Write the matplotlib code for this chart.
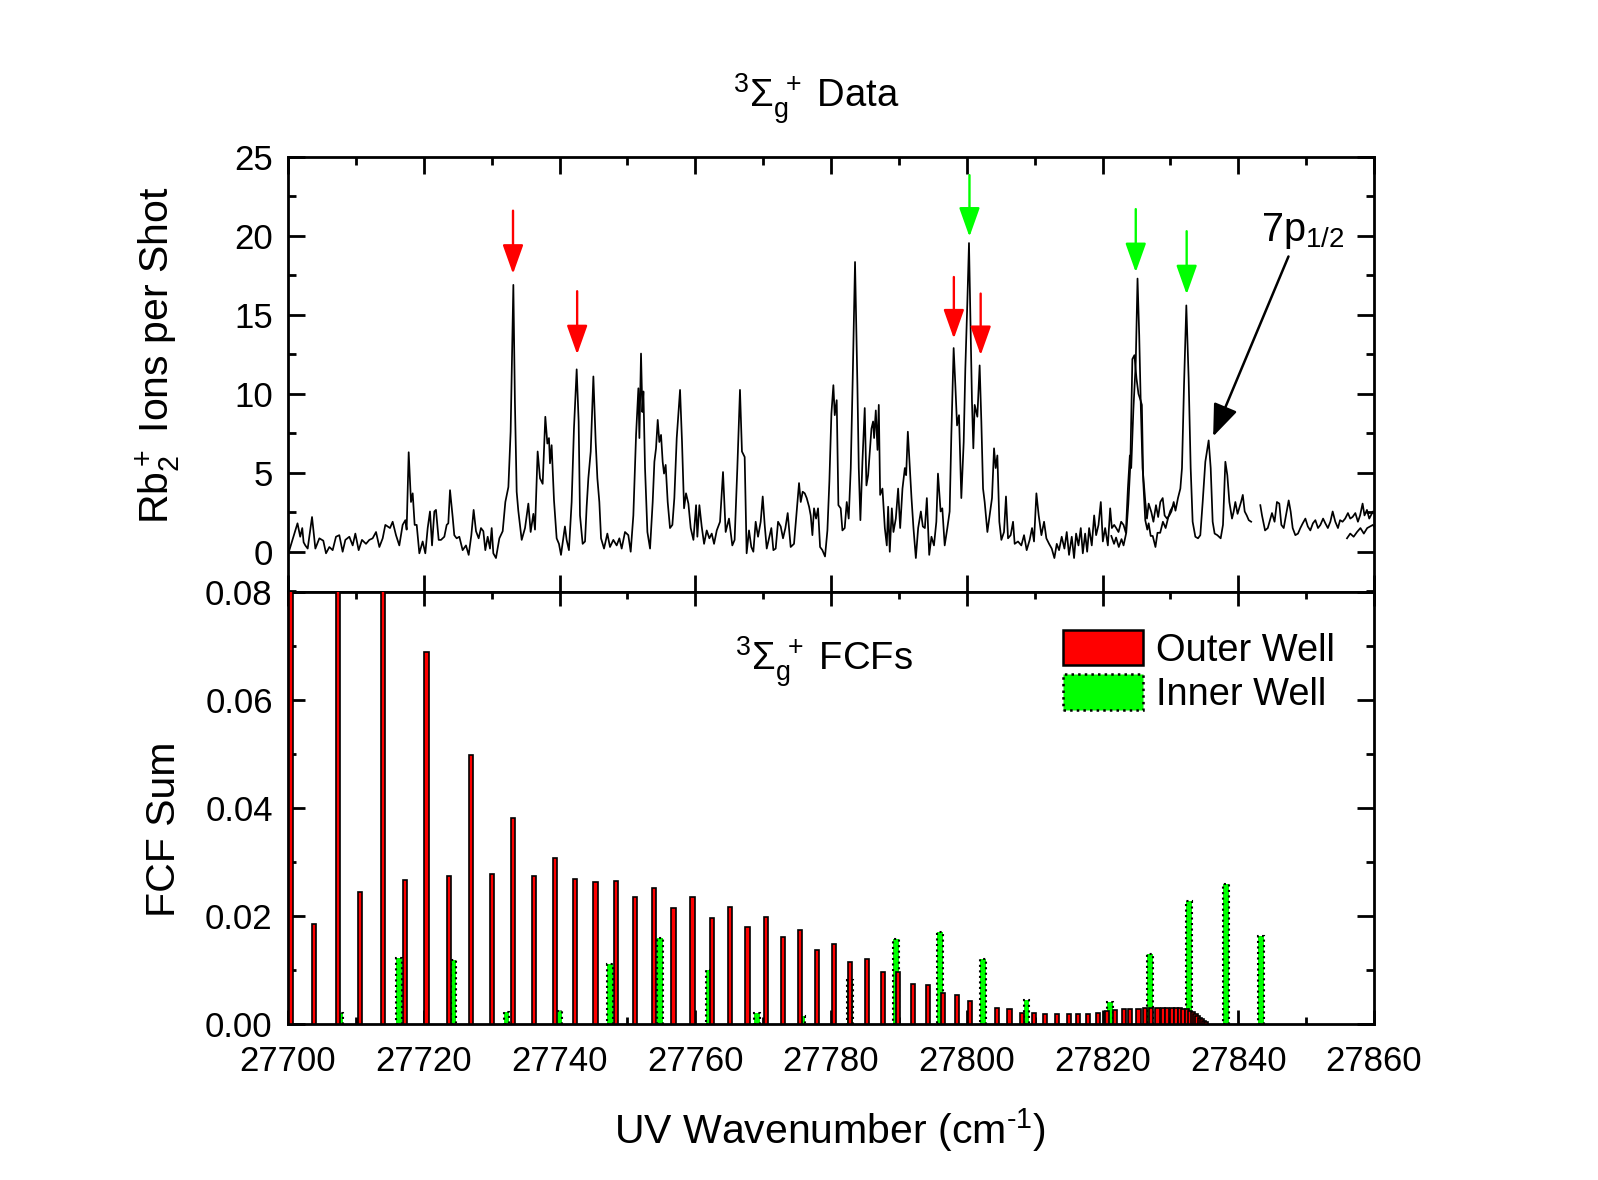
import matplotlib
matplotlib.use("Agg")
import matplotlib.pyplot as plt
from matplotlib.patches import Patch
from matplotlib.ticker import MultipleLocator
import numpy as np

plt.rcParams['font.family'] = ['Liberation Sans', 'DejaVu Sans']
plt.rcParams['mathtext.fontset'] = 'custom'
plt.rcParams['mathtext.rm'] = 'Liberation Sans'
plt.rcParams['mathtext.it'] = 'Liberation Sans'
plt.rcParams['mathtext.bf'] = 'Liberation Sans:bold'

BASE = 27700.0

# ---------------- spectrum (offset from 27700 cm^-1, ions per shot) ----------------
scanA_x = [0.2, 1.4, 1.8, 2.1, 2.3, 2.55, 2.9, 3.54, 4.03, 4.62, 5.2, 5.6, 6.09, 6.58, 7.07, 7.56, 8.05, 8.45,
           9.04, 9.53, 9.92, 10.41, 10.9, 11.49, 11.98, 12.47, 12.97, 13.46, 13.95, 14.34, 14.68, 15.03, 15.42,
           15.91, 16.4, 16.89, 17.29, 17.48, 17.78, 18.12, 18.37, 18.66, 18.96, 19.35, 19.84, 20.23, 20.58, 20.92,
           21.22, 21.56, 21.8, 22.2, 22.54, 23.03, 23.38, 23.62, 23.87, 24.26, 24.5, 24.85, 25.24, 25.73, 26.22,
           26.62, 27.01, 27.35, 27.7, 28.09, 28.43, 28.78, 29.07, 29.42, 29.76, 30.01, 30.25, 30.64, 31.14, 31.63,
           32.02, 32.47, 32.8, 33.2, 33.43, 33.69, 33.93, 34.43, 34.92, 35.41, 35.75, 36.15, 36.39, 36.78, 37.13,
           37.52, 37.91, 38.21, 38.45, 38.6, 38.84, 39.19, 39.58, 39.92, 40.22, 40.8, 41.05, 41.39, 41.79, 42.13,
           42.53, 42.82, 43.02, 43.41, 43.76, 44.0, 44.25, 44.6, 44.99, 45.33, 45.58, 45.87, 46.12, 46.56, 47.05,
           47.44, 47.93, 48.42, 48.82, 49.16, 49.65, 50.14, 50.49, 50.88, 51.28, 51.62, 51.77, 52.01, 52.21, 52.36,
           52.6, 52.95, 53.34, 53.73, 53.98, 54.22, 54.47, 54.71, 54.96, 55.2, 55.4, 55.64, 55.94, 56.28, 56.63,
           56.92, 57.27, 57.76, 58.05, 58.35, 58.64, 58.99, 59.33, 59.73, 60.12, 60.31, 60.61, 60.95, 61.3, 61.69,
           62.08, 62.43, 62.77, 63.17, 63.65, 64.09, 64.48, 64.97, 65.46, 65.8, 66.2, 66.59, 66.88, 67.28, 67.57,
           67.92, 68.26, 68.56, 68.9, 69.25, 69.64, 69.94, 70.23, 70.53, 70.87, 71.21, 71.51, 71.85, 72.2, 72.59,
           72.93, 73.28, 73.62, 74.06, 74.55, 74.95, 75.29, 75.54, 75.83, 76.13, 76.42, 76.77, 77.01, 77.26, 77.5,
           77.8, 78.09, 78.39, 78.73, 79.12, 79.47, 79.76, 80.06, 80.35, 80.55, 80.84, 81.09, 81.43, 81.68, 82.02,
           82.32, 82.61, 82.91, 83.2, 83.54, 83.89, 84.09, 84.33, 84.63, 84.97, 85.22, 85.47, 85.76, 85.96, 86.2,
           86.35, 86.6, 86.85, 87.04, 87.24, 87.58, 87.93, 88.22, 88.42, 88.66, 88.96, 89.2, 89.55, 89.89, 90.19,
           90.53, 90.88, 91.07, 91.32, 91.56, 91.86, 92.15, 92.5, 92.84, 93.24, 93.53, 93.83, 94.12, 94.47, 94.8,
           95.17, 95.52, 95.76, 96.15, 96.4, 96.75, 97.14, 97.48, 97.73, 98.07, 98.32, 98.57, 98.86, 99.2, 99.55,
           99.79, 100.09, 100.33, 100.58, 100.77, 100.97, 101.17, 101.56, 101.9, 102.15, 102.4, 102.64, 103.04,
           103.38, 103.72, 104.02, 104.26, 104.51, 104.8, 105.1, 105.49, 105.78, 106.08, 106.47, 106.82, 107.06,
           107.55, 108.04, 108.44, 108.83, 109.27, 109.62, 109.91, 110.26, 110.6, 111.0, 111.39, 111.73, 112.13,
           112.52, 112.91, 113.26, 113.6, 113.99, 114.39, 114.73, 115.07, 115.47, 115.81, 116.11, 116.46, 116.8,
           117.1, 117.44, 117.74, 118.03, 118.42, 118.77, 119.06, 119.41, 119.75, 120.05, 120.39, 120.79, 121.13,
           121.38, 121.72, 122.02, 122.36, 122.75, 123.1, 123.44, 123.74, 124.03, 124.23, 124.55, 124.9, 125.16,
           125.41, 125.65, 125.9, 126.07, 126.31, 126.55, 126.8, 127.2, 127.5, 127.88, 128.2, 128.52, 128.87,
           129.15, 129.5, 129.85, 130.15, 130.49, 130.75, 131.12, 131.47, 131.71, 132.01, 132.35, 132.69, 132.99,
           133.28, 133.68, 134.07, 134.41, 134.76, 135.15, 135.64, 135.94, 136.23, 136.52, 136.92, 137.41, 137.75,
           138.1, 138.39, 138.69, 139.08, 139.33, 139.57, 139.9, 140.41, 140.67, 140.95, 141.25, 141.55, 141.9]
scanA_y = [0.1, 1.8, 0.95, 1.5, 0.6, 0.4, 0.2, 2.2, 0.2, 0.85, 0.7, -0.1, 0.3, 0.1, 0.95, 1.05, 0.0, 0.75,
           0.95, 0.4, 1.15, 0.1, 0.75, 0.5, 0.75, 0.85, 1.25, 0.3, 0.85, 1.7, 1.6, 1.5, 1.9,
           1.05, 0.4, 1.7, 2.0, 1.4, 6.3, 3.15, 3.7, 1.7, 1.7, -0.1, 0.65, -0.1, 1.5, 2.55,
           0.4, 2.55, 2.65, 0.75, 0.75, 0.95, 1.7, 1.8, 3.9, 2.2, 1.05, 0.85, 0.95, 0.1, 0.4,
           -0.2, 1.05, 2.65, 1.3, 0.85, 1.5, 1.3, 0.1, 0.95, 0.2, 1.5, -0.1, -0.4, 0.85, 1.3,
           3.15, 4.1, 7.6, 16.9, 9.5, 3.8, 2.6, 0.75, 1.5, 3.05, 1.25, 2.4, 1.4, 6.35, 4.65,
           4.3, 8.55, 6.85, 7.2, 5.6, 6.75, 3.25, 0.85, 0.5, -0.2, 1.6, 0.75, 0.1, 3.15, 7.8,
           11.55, 8.25, 2.3, 0.5, 0.65, 2.85, 4.65, 6.35, 11.1, 6.95, 4.65, 3.15, 0.85, 0.2, 1.15,
           0.3, 0.75, 0.4, 0.85, 0.2, 1.25, 1.05, 0.0, 2.3, 7.4, 10.35, 7.2, 12.55, 8.85, 10.15,
           5.3, 1.25, 0.2, 3.15, 5.7, 6.55, 8.35, 6.95, 7.4, 5.7, 4.95, 5.5, 3.15, 1.5, 1.7,
           3.4, 7.2, 10.25, 6.95, 2.75, 3.7, 3.05, 1.5, 0.75, 2.95, 0.95, 2.95, 1.6, 0.5, 1.35,
           0.85, 1.15, 0.5, 1.35, 1.9, 5.05, 1.25, 2.1, 0.4, 0.75, 5.3, 10.25, 6.35, 6.0, -0.1,
           1.35, 0.3, 0.0, 1.9, 0.95, 1.9, 3.5, 1.7, 0.2, 0.85, 1.5, 0.1, 0.2, 1.9, 1.6,
           0.85, 1.5, 2.45, 0.3, 0.5, 2.55, 4.35, 3.15, 3.8, 3.7, 3.4, 2.85, 2.3, 1.05, 2.75,
           2.1, 2.75, 0.3, 0.1, -0.3, 1.35, 4.45, 8.75, 10.55, 8.65, 9.6, 2.95, 2.75, 1.35, 1.5,
           3.15, 2.1, 5.3, 11.0, 18.35, 10.55, 5.3, 2.0, 5.7, 9.1, 4.2, 4.85, 6.55, 7.8, 8.25,
           7.2, 8.95, 6.45, 9.3, 3.6, 4.0, 1.5, 0.4, 2.85, 0.0, 2.75, 1.25, 2.1, 4.0, 1.5,
           4.0, 5.3, 4.85, 7.6, 5.7, 3.4, 1.5, -0.4, 1.5, 2.55, 1.6, 1.5, 3.4, -0.2, 0.95,
           0.4, 1.9, 4.95, 2.55, 2.75, 0.4, 1.5, 2.55, 7.4, 12.9, 10.55, 8.0, 8.65, 3.4, 6.95,
           11.6, 15.85, 19.55, 13.7, 9.5, 6.55, 9.3, 8.55, 11.8, 8.25, 4.0, 3.15, 1.25,
           2.3, 3.4, 6.55, 5.3, 6.1, 1.9, 0.75, 1.25, 3.5, 0.85, 1.05, 1.9, 0.5,
           0.65, 0.4, 1.05, 0.1, 0.75, 1.5, 0.65, 3.7, 2.3, 1.05, 1.9, 0.85, 0.5,
           0.2, -0.4, 0.5, 0.1, 0.95, 0.2, 1.25, -0.2, 0.95, -0.4, 1.15, 0.4, 1.5,
           -0.1, 1.15, 0.0, 1.5, 0.4, 2.3, 1.05, 1.7, 3.15, 0.65, 1.5, 0.4, 2.75,
           1.5, 1.7, 1.5, 1.25, 1.9, 1.7, 1.2, 4.0, 6.1, 5.3, 9.0, 12.0, 17.3,
           13.7, 9.1, 5.3, 4.45, 3.15, 2.1, 3.05, 2.5, 1.9, 2.95, 2.2, 3.15, 3.4,
           2.3, 2.1, 2.3, 2.55, 3.15, 2.6, 3.4, 4.0, 5.3, 10.55, 15.6, 11.0, 5.3,
           1.9, 0.95, 0.85, 1.05, 3.15, 5.7, 7.05, 5.3, 1.9, 1.15, 1.05, 0.85, 1.7,
           5.7, 4.85, 3.15, 2.1, 2.55, 3.15, 2.4, 3.15, 3.6, 2.55, 2.3, 2.0, 1.9]

scanB_x = [121.3, 121.7, 122.0, 122.4, 122.8, 123.1, 123.5, 123.8, 124.1, 124.4, 124.7, 125.0, 125.3, 125.6,
           125.8, 126.0, 126.3, 126.6, 126.8, 127.1, 127.4, 127.8, 128.1, 128.5, 128.9, 129.3, 129.7, 130.0, 130.4]
scanB_y = [1.0, 0.5, 0.9, 0.3, 0.8, 0.4, 1.2, 3.0, 5.5, 12.2, 12.45, 11.0, 10.0, 9.6,
           9.3, 4.5, 2.0, 1.4, 1.8, 1.0, 1.0, 0.3, 1.2, 1.2, 1.9, 1.5, 2.2, 2.6, 2.9]

scanC_x = [143.25, 143.5, 143.95, 144.35, 144.97, 145.35, 145.7, 146.05, 146.35, 146.7, 147.03, 147.43, 147.72,
           148.02, 148.41, 148.8, 149.15, 149.5, 149.89, 150.25, 150.62, 151.0, 151.36, 151.75, 152.1, 152.5,
           152.83, 153.2, 153.57, 153.91, 154.3, 154.69, 155.0, 155.37, 155.75, 156.16, 156.5, 156.84, 157.25,
           157.63, 157.95, 158.32, 158.6, 158.96, 159.3, 159.84, 160.0]
scanC_y = [2.95, 2.3, 1.35, 1.5, 2.45, 1.9, 3.15, 3.05, 1.7, 1.5, 2.3, 3.25, 2.55,
           1.5, 1.05, 1.15, 1.5, 1.8, 2.1, 1.6, 1.35, 1.8, 2.0, 1.5, 1.7, 2.1,
           1.8, 1.5, 1.9, 2.55, 1.9, 1.5, 2.0, 1.9, 2.1, 2.45, 2.1, 2.2, 2.45,
           1.9, 2.3, 3.05, 2.3, 2.65, 2.1, 2.55, 2.5]

scanD_x = [156.02, 156.5, 157.0, 157.5, 158.0, 158.5, 159.0, 159.84, 160.0]
scanD_y = [0.85, 1.15, 0.95, 1.25, 1.5, 1.15, 1.5, 1.7, 1.6]

# ---------------- Franck-Condon factors ----------------
outer_x = [0.5, 3.8, 7.3, 10.6, 14.0, 17.2, 20.4, 23.7, 26.9, 30.1, 33.2, 36.2, 39.3, 42.3, 45.3, 48.3, 51.1,
           53.97, 56.8, 59.6, 62.4, 65.1, 67.7, 70.4, 72.9, 75.5, 78.0, 80.4, 82.8, 85.3, 87.6, 89.9, 92.1,
           94.3, 96.5, 98.5, 100.45, 104.4, 106.3, 108.1, 109.9, 111.5, 113.25, 115.0, 116.4, 117.9, 119.4,
           120.6, 121.8, 123.1, 124.1, 125.3, 126.25, 127.2, 128.1, 128.85, 129.5, 130.2, 130.8, 131.4, 131.9,
           132.4, 132.9, 133.3, 133.7, 134.0, 134.35, 134.7, 135.0, 135.25]
outer_v = [0.09, 0.0185, 0.09, 0.0245, 0.09, 0.0267, 0.0689, 0.0275, 0.0498, 0.0278, 0.0382, 0.0275, 0.0308,
           0.0268, 0.0263, 0.0264, 0.0236, 0.0252, 0.0214, 0.0236, 0.0196, 0.0217, 0.0179, 0.0198, 0.0161,
           0.0174, 0.0137, 0.0148, 0.0115, 0.0121, 0.0096, 0.0097, 0.0075, 0.0073, 0.0057, 0.0054, 0.0042,
           0.0030, 0.0027, 0.0021, 0.0020, 0.0019, 0.0018, 0.0018, 0.0018, 0.0019, 0.0021, 0.0024, 0.0026,
           0.0027, 0.0027, 0.0028, 0.0029, 0.0030, 0.0030, 0.0030, 0.0030, 0.0030, 0.0029, 0.0029, 0.0028,
           0.0027, 0.0025, 0.0022, 0.0018, 0.0015, 0.0012, 0.0009, 0.0006, 0.0003]
inner_x = [7.7, 16.3, 24.4, 32.2, 39.9, 47.4, 54.8, 62.0, 69.05, 75.8, 82.8, 89.6, 96.1, 102.4, 108.8,
           121.1, 127.0, 132.8, 138.2, 143.3]
inner_v = [0.0021, 0.0122, 0.0119, 0.0022, 0.0025, 0.0112, 0.0159, 0.0100, 0.0020, 0.0015, 0.0081, 0.0157,
           0.0170, 0.0120, 0.0044, 0.0040, 0.0130, 0.0227, 0.0259, 0.0163]

# arrows: (x offset, tail value, tip value)
red_arrows = [(33.15, 21.6, 17.6), (42.6, 16.5, 12.5), (98.1, 17.4, 13.5), (102.05, 16.35, 12.45)]
green_arrows = [(100.4, 23.85, 19.95), (124.9, 21.7, 17.7), (132.4, 20.3, 16.3)]

W, H = 1598, 1180
fig = plt.figure(figsize=(W / 100, H / 100), dpi=100)
L, R = 288 / W, 1374 / W
ax1 = fig.add_axes([L, 1 - 592 / H, R - L, (592 - 157) / H])
ax2 = fig.add_axes([L, 1 - 1024 / H, R - L, (1024 - 592) / H], sharex=ax1)

lw_line = 1.25
for xs, ys in [(scanA_x, scanA_y), (scanB_x, scanB_y), (scanC_x, scanC_y), (scanD_x, scanD_y)]:
    ax1.plot(BASE + np.array(xs), ys, color='black', lw=lw_line)

for x, y0, y1 in red_arrows:
    ax1.annotate('', xy=(BASE + x, y1), xytext=(BASE + x, y0),
                 arrowprops=dict(arrowstyle='-|>,head_length=0.9,head_width=0.32', color='#ff0000',
                                 lw=1.7, mutation_scale=20, shrinkA=0, shrinkB=0))
for x, y0, y1 in green_arrows:
    ax1.annotate('', xy=(BASE + x, y1), xytext=(BASE + x, y0),
                 arrowprops=dict(arrowstyle='-|>,head_length=0.9,head_width=0.32', color='#00ff00',
                                 lw=1.7, mutation_scale=20, shrinkA=0, shrinkB=0))
ax1.annotate('', xy=(BASE + 136.3, 7.3), xytext=(BASE + 147.4, 18.7),
             arrowprops=dict(arrowstyle='-|>,head_length=0.9,head_width=0.35', color='black',
                             lw=1.8, mutation_scale=22, shrinkA=0, shrinkB=0))
ax1.text(BASE + 143.3, 19.7, r'7p$_{1/2}$', fontsize=28.5, ha='left', va='baseline')

ax1.set_xlim(27700, 27860)
ax1.set_ylim(-2.55, 25)
ax1.yaxis.set_major_locator(MultipleLocator(5))
ax1.yaxis.set_minor_locator(MultipleLocator(2.5))
ax1.xaxis.set_major_locator(MultipleLocator(20))
ax1.xaxis.set_minor_locator(MultipleLocator(10))
ax1.set_ylabel(r'Rb$_2^+$ Ions per Shot', fontsize=29.5)
ax1.yaxis.set_label_coords(-0.097, 0.543)

# bars
ax2.bar(BASE + np.array(inner_x), inner_v, width=0.85, color='#00ff00', edgecolor='black',
        linestyle=':', linewidth=1.5, zorder=2)
ax2.bar(BASE + np.array(outer_x), outer_v, width=0.6, color='#ff0000', edgecolor='black',
        linewidth=1.2, zorder=3)
ax2.set_ylim(0, 0.08)
ax2.yaxis.set_major_locator(MultipleLocator(0.02))
ax2.yaxis.set_minor_locator(MultipleLocator(0.01))
ax2.yaxis.set_major_formatter(matplotlib.ticker.FormatStrFormatter('%.2f'))
ax2.set_ylabel('FCF Sum', fontsize=29.5)
ax2.yaxis.set_label_coords(-0.097, 0.451)
ax2.set_xlabel(r'UV Wavenumber (cm$^{\text{-}1}$)', fontsize=29.5)
ax2.xaxis.set_label_coords(0.499, -0.19)
ax2.text(0.494, 0.838, r'$^{3}\Sigma_{g}^{\,\,+}$ FCFs', transform=ax2.transAxes, fontsize=27.5,
         ha='center', va='center')

handles = [Patch(facecolor='#ff0000', edgecolor='black', linewidth=1.8, label='Outer Well'),
           Patch(facecolor='#00ff00', edgecolor='black', linewidth=1.8, linestyle=':', label='Inner Well')]
ax2.legend(handles=handles, loc='upper left', bbox_to_anchor=(0.7136, 0.912), frameon=False,
           fontsize=27.4, handlelength=2.1, handleheight=1.05, labelspacing=0.15, borderpad=0,
           borderaxespad=0, handletextpad=0.35)

for ax in (ax1, ax2):
    for s in ax.spines.values():
        s.set_linewidth(2.0)
    ax.tick_params(which='both', direction='in', top=True, right=True, width=2.0, labelsize=25)
    ax.tick_params(which='major', length=12)
    ax.tick_params(which='minor', length=6)
    ax.tick_params(axis='y', pad=11)
ax1.tick_params(axis='x', which='both', labelbottom=False)
ax1.tick_params(axis='x', which='minor', bottom=False)
ax2.tick_params(axis='x', which='both', pad=15)
ax2.tick_params(axis='x', which='major', length=10)
ax2.tick_params(axis='x', which='minor', length=5)

fig.text(816 / W, 1 - 107 / H, r'$^{3}\Sigma_{g}^{\,\,+}$ Data', fontsize=27.5, ha='center', va='baseline')

fig.savefig('out.png', dpi=100)
